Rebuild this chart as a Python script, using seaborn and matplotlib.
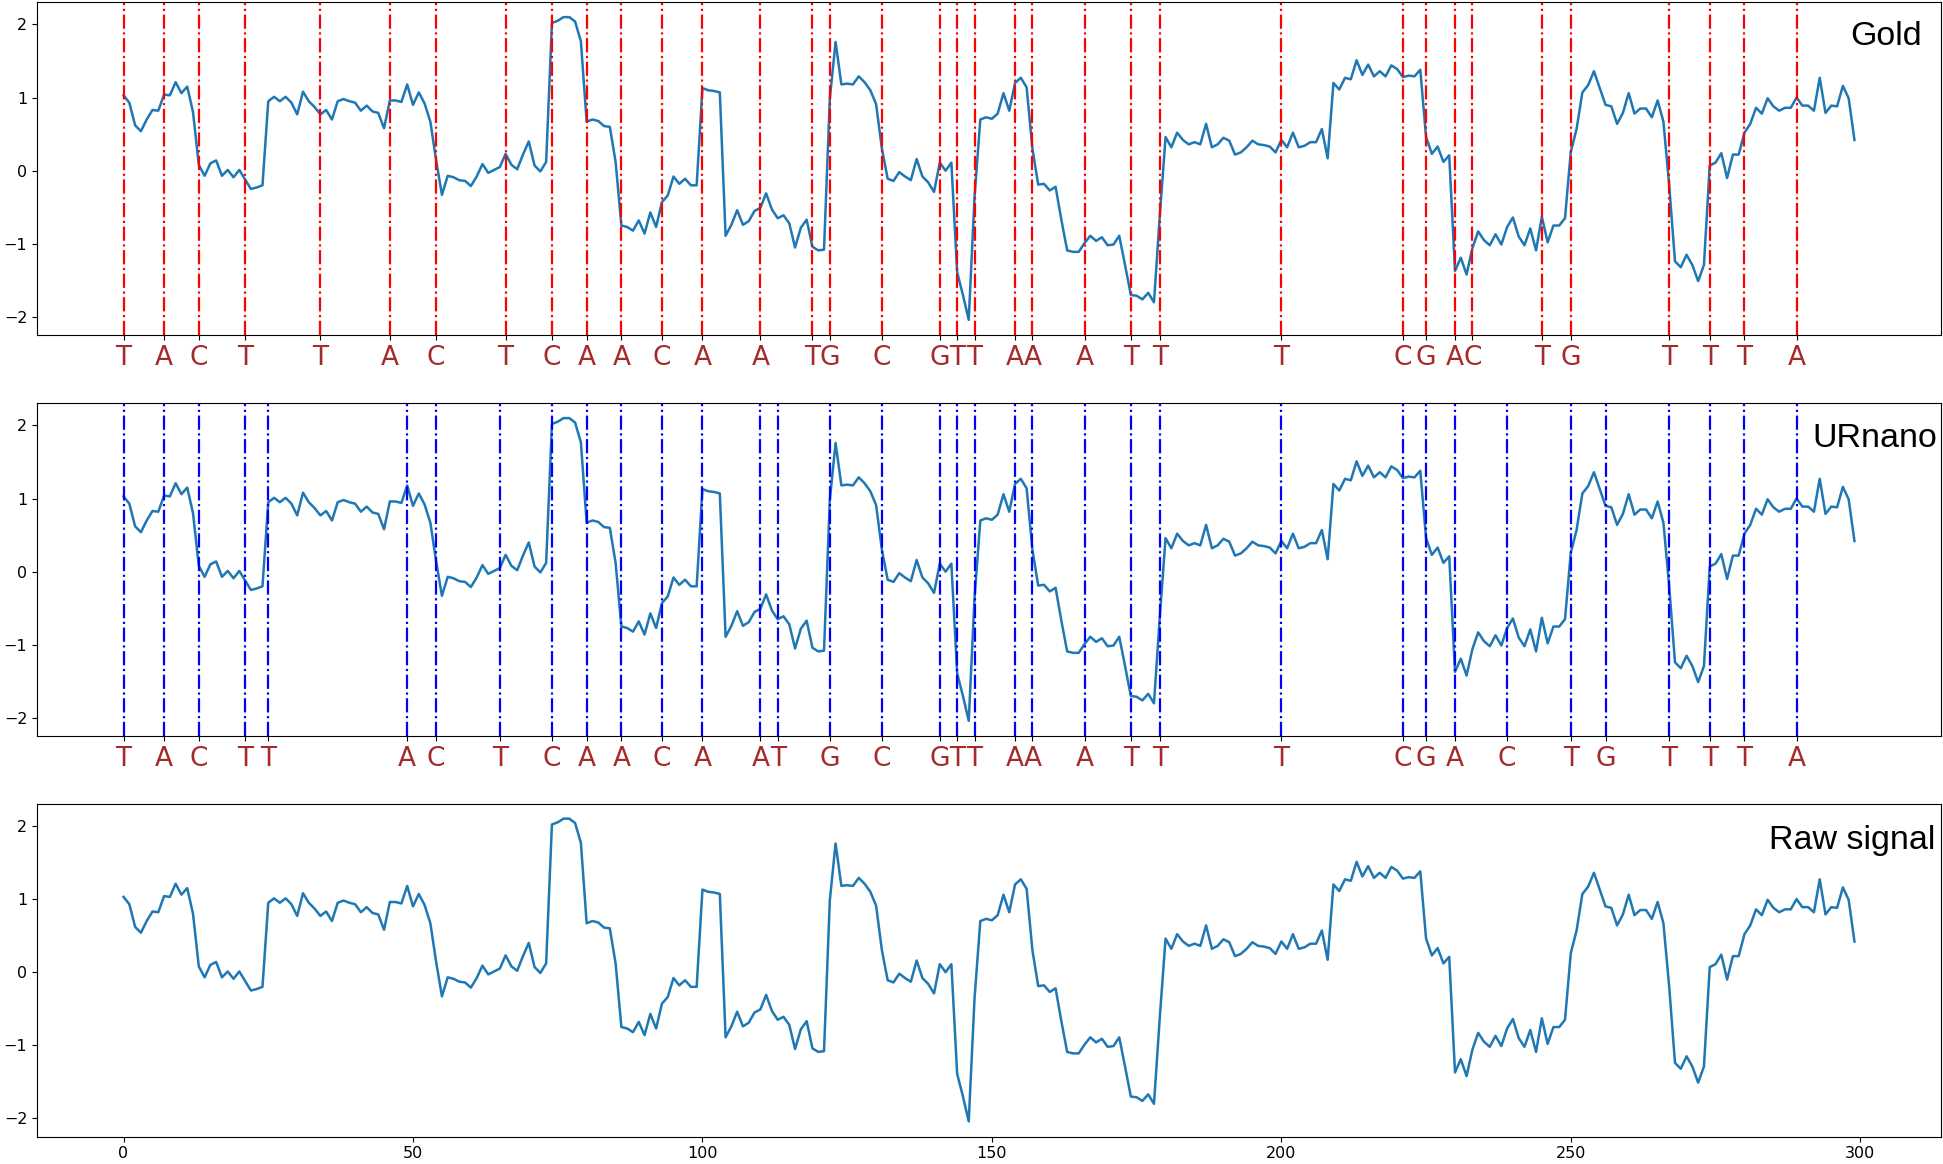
import numpy as np
import pandas as pd
import matplotlib
matplotlib.use("Agg")
import matplotlib.pyplot as plt
import seaborn as sns

# normalised current, one value per sample (0..299)
signal = [
    1.03, 0.93, 0.62, 0.54, 0.70, 0.83, 0.82, 1.04, 1.03, 1.21,
    1.06, 1.15, 0.80, 0.08, -0.07, 0.10, 0.14, -0.07, 0.01, -0.09,
    0.01, -0.12, -0.25, -0.23, -0.20, 0.95, 1.01, 0.95, 1.01, 0.93,
    0.77, 1.08, 0.95, 0.87, 0.77, 0.83, 0.70, 0.95, 0.98, 0.95,
    0.93, 0.82, 0.89, 0.81, 0.79, 0.58, 0.96, 0.96, 0.94, 1.18,
    0.90, 1.07, 0.92, 0.67, 0.14, -0.33, -0.07, -0.09, -0.13, -0.14,
    -0.21, -0.08, 0.09, -0.03, 0.01, 0.05, 0.23, 0.08, 0.02, 0.22,
    0.40, 0.07, -0.01, 0.12, 2.02, 2.05, 2.10, 2.10, 2.04, 1.77,
    0.67, 0.70, 0.68, 0.61, 0.60, 0.12, -0.75, -0.77, -0.82, -0.68,
    -0.86, -0.57, -0.77, -0.43, -0.34, -0.08, -0.18, -0.11, -0.20, -0.20,
    1.13, 1.10, 1.09, 1.07, -0.89, -0.74, -0.54, -0.74, -0.69, -0.55,
    -0.51, -0.31, -0.53, -0.65, -0.61, -0.72, -1.05, -0.78, -0.67, -1.04,
    -1.09, -1.08, 0.98, 1.76, 1.18, 1.19, 1.18, 1.29, 1.21, 1.10,
    0.91, 0.30, -0.11, -0.14, -0.02, -0.08, -0.13, 0.16, -0.08, -0.16,
    -0.29, 0.11, 0.00, 0.11, -1.39, -1.70, -2.04, -0.36, 0.70, 0.73,
    0.71, 0.78, 1.06, 0.82, 1.20, 1.27, 1.14, 0.30, -0.19, -0.18,
    -0.27, -0.22, -0.67, -1.09, -1.11, -1.11, -0.99, -0.89, -0.96, -0.91,
    -1.02, -1.01, -0.89, -1.29, -1.70, -1.71, -1.76, -1.67, -1.80, -0.62,
    0.46, 0.32, 0.52, 0.42, 0.36, 0.39, 0.36, 0.64, 0.32, 0.36,
    0.45, 0.41, 0.22, 0.25, 0.32, 0.41, 0.36, 0.35, 0.33, 0.25,
    0.42, 0.32, 0.52, 0.32, 0.34, 0.39, 0.39, 0.57, 0.17, 1.20,
    1.11, 1.27, 1.25, 1.51, 1.31, 1.45, 1.29, 1.36, 1.29, 1.44,
    1.39, 1.28, 1.30, 1.29, 1.38, 0.46, 0.23, 0.33, 0.12, 0.21,
    -1.37, -1.19, -1.42, -1.06, -0.83, -0.95, -1.02, -0.87, -1.01, -0.77,
    -0.64, -0.90, -1.02, -0.79, -1.09, -0.63, -0.98, -0.75, -0.75, -0.65,
    0.26, 0.57, 1.07, 1.17, 1.36, 1.13, 0.90, 0.88, 0.64, 0.79,
    1.06, 0.78, 0.85, 0.85, 0.73, 0.96, 0.67, -0.20, -1.24, -1.32,
    -1.15, -1.29, -1.51, -1.29, 0.07, 0.11, 0.24, -0.10, 0.22, 0.22,
    0.52, 0.64, 0.86, 0.78, 0.99, 0.88, 0.82, 0.86, 0.86, 1.00,
    0.89, 0.89, 0.82, 1.27, 0.79, 0.89, 0.88, 1.16, 0.99, 0.42,
]

bases = ["T", "A", "C", "T", "T", "A", "C", "T", "C", "A", "A", "C",
         "A", "A", "T", "G", "C", "G", "T", "T", "A", "A", "A", "T",
         "T", "T", "C", "G", "A", "C", "T", "G", "T", "T", "T", "A"]

gold_pos = [0, 7, 13, 21, 34, 46, 54, 66, 74, 80, 86, 93,
            100, 110, 119, 122, 131, 141, 144, 147, 154, 157, 166, 174,
            179, 200, 221, 225, 230, 233, 245, 250, 267, 274, 280, 289]

urnano_pos = [0, 7, 13, 21, 25, 49, 54, 65, 74, 80, 86, 93,
              100, 110, 113, 122, 131, 141, 144, 147, 154, 157, 166, 174,
              179, 200, 221, 225, 230, 239, 250, 256, 267, 274, 280, 289]

df = pd.DataFrame({"t": np.arange(len(signal)), "signal": signal})

fig = plt.figure(figsize=(19.43, 11.64), dpi=100)
left, width, height = 0.01904, 0.97993, 0.2861
bottoms = [0.7122, 0.3677, 0.0236]
axes = [fig.add_axes([left, b, width, height]) for b in bottoms]

panels = [
    ("Gold", gold_pos, "red", 0.990, 0.944),
    ("URnano", urnano_pos, "blue", 0.998, 0.939),
    ("Raw signal", None, None, 0.997, 0.934),
]

for ax, (name, pos, col, tx, ty) in zip(axes, panels):
    sns.lineplot(data=df, x="t", y="signal", ax=ax, color="#1f77b4", linewidth=1.8)
    if pos is not None:
        for p in pos:
            ax.axvline(p, color=col, linestyle="-.", linewidth=1.6)
        ax.set_xticks(pos)
        ax.set_xticklabels(bases, color="brown", fontsize=19)
    ax.set_xlabel("")
    ax.set_ylabel("")
    ax.set_yticks([-2, -1, 0, 1, 2])
    ax.tick_params(axis="y", labelsize=11.5)
    ax.text(tx, ty, name, transform=ax.transAxes, ha="right", va="top",
            fontsize=24.5, family="Liberation Sans")

axes[2].tick_params(axis="x", labelsize=11.5)

fig.savefig("out.png", dpi=100)
